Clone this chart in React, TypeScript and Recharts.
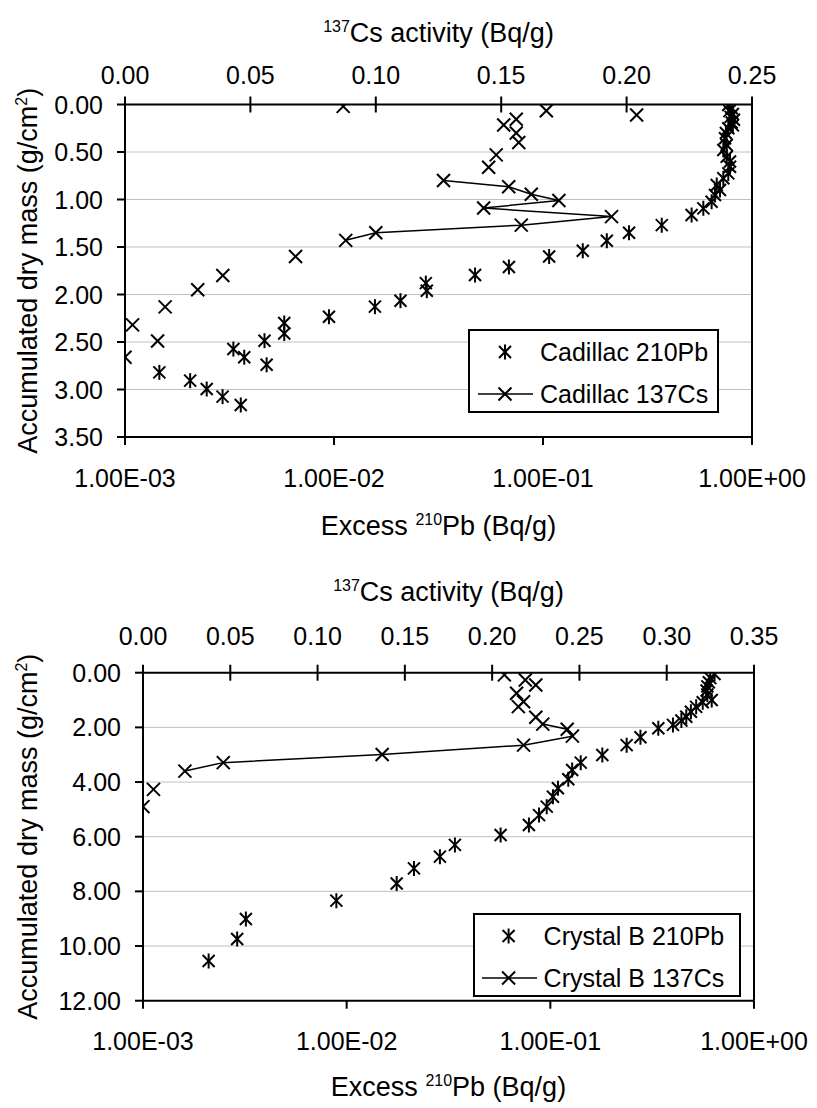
import React from 'react';
import { ScatterChart, Scatter, XAxis, YAxis, CartesianGrid, Legend, ReferenceLine } from 'recharts';

const FONT = '"Liberation Sans", Arial, Helvetica, sans-serif';
const TICK_FS = 25;
const TITLE_FS = 27;
const SUP_FS = 16;

// ---------- Cadillac ----------
const cadCsDepth = [0.02, 0.065, 0.11, 0.155, 0.215, 0.30, 0.40, 0.53, 0.66, 0.80, 0.865, 0.945, 1.01, 1.09, 1.18, 1.27, 1.35, 1.43, 1.60, 1.80, 1.95, 2.13, 2.32, 2.49, 2.66];
const cadCs = [0.087, 0.168, 0.204, 0.156, 0.151, 0.156, 0.157, 0.148, 0.145, 0.127, 0.153, 0.162, 0.173, 0.143, 0.194, 0.158, 0.100, 0.088, 0.068, 0.039, 0.029, 0.016, 0.003, 0.013, 0.000];
const cadCsLineRange = [9, 17];

const cadPbDepth = [0.005, 0.04, 0.07, 0.10, 0.13, 0.16, 0.19, 0.22, 0.25, 0.30, 0.356, 0.426, 0.479, 0.55, 0.60, 0.655, 0.725, 0.777, 0.847, 0.90, 0.953, 1.023, 1.093, 1.163, 1.27, 1.35, 1.434, 1.54, 1.60, 1.71, 1.795, 1.88, 1.96, 2.065, 2.128, 2.234, 2.30, 2.41, 2.486, 2.574, 2.66, 2.74, 2.82, 2.907, 2.995, 3.075, 3.163];
const cadPb = [0.77, 0.80, 0.78, 0.81, 0.79, 0.82, 0.80, 0.81, 0.77, 0.75, 0.743, 0.757, 0.729, 0.757, 0.785, 0.785, 0.77, 0.729, 0.678, 0.703, 0.665, 0.641, 0.585, 0.514, 0.370, 0.258, 0.202, 0.155, 0.107, 0.0687, 0.0473, 0.0275, 0.0278, 0.0208, 0.0157, 0.00946, 0.00578, 0.00578, 0.00465, 0.0033, 0.00372, 0.00476, 0.00146, 0.00205, 0.00246, 0.00293, 0.00358];

// ---------- Crystal B ----------
const crbCsDepth = [0.08, 0.27, 0.45, 0.75, 1.06, 1.24, 1.63, 1.88, 2.07, 2.32, 2.65, 2.99, 3.29, 3.60, 4.27, 4.90];
const crbCs = [0.207, 0.219, 0.225, 0.214, 0.218, 0.215, 0.225, 0.229, 0.243, 0.246, 0.218, 0.137, 0.046, 0.024, 0.006, 0.000];
const crbCsLineRange = [7, 13];

const crbPbDepth = [0.05, 0.20, 0.35, 0.50, 0.65, 0.80, 1.00, 1.08, 1.25, 1.43, 1.61, 1.75, 1.91, 2.03, 2.36, 2.65, 3.01, 3.29, 3.56, 3.90, 4.23, 4.54, 4.90, 5.21, 5.57, 5.94, 6.30, 6.73, 7.16, 7.71, 8.34, 9.01, 9.74, 10.55];
const crbPb = [0.64, 0.61, 0.60, 0.59, 0.585, 0.59, 0.62, 0.56, 0.52, 0.49, 0.465, 0.44, 0.40, 0.339, 0.277, 0.237, 0.180, 0.141, 0.128, 0.1225, 0.109, 0.103, 0.096, 0.088, 0.0785, 0.057, 0.034, 0.0287, 0.0214, 0.0176, 0.0089, 0.0032, 0.0029, 0.0021];

// ---------- ticks ----------
const logTicks = [0.001, 0.01, 0.1, 1];
const cadCsTicks = [0, 0.05, 0.1, 0.15, 0.2, 0.25];
const crbCsTicks = [0, 0.05, 0.1, 0.15, 0.2, 0.25, 0.3, 0.35];
const cadDepthTicks = [0, 0.5, 1, 1.5, 2, 2.5, 3, 3.5];
const crbDepthTicks = [0, 2, 4, 6, 8, 10, 12];

const toPoints = (depth: number[], vals: number[]) => depth.map((d, i) => ({ x: vals[i], y: d }));

const fmtExp = (v: number) => {
  const e = Math.round(Math.log10(v));
  const s = e < 0 ? '-' : '+';
  const a = Math.abs(e);
  return `1.00E${s}${a < 10 ? '0' : ''}${a}`;
};

const XMark = (props: any) => {
  const { cx, cy } = props;
  if (cx == null || cy == null) return <g />;
  const r = 6.5;
  return (
    <g stroke="#000" strokeWidth={2}>
      <line x1={cx - r} y1={cy - r} x2={cx + r} y2={cy + r} />
      <line x1={cx - r} y1={cy + r} x2={cx + r} y2={cy - r} />
    </g>
  );
};

const StarMark = (props: any) => {
  const { cx, cy } = props;
  if (cx == null || cy == null) return <g />;
  const r = 6;
  return (
    <g stroke="#000" strokeWidth={2}>
      <line x1={cx - r} y1={cy - r} x2={cx + r} y2={cy + r} />
      <line x1={cx - r} y1={cy + r} x2={cx + r} y2={cy - r} />
      <line x1={cx} y1={cy - 7.5} x2={cx} y2={cy + 7.5} />
    </g>
  );
};

const NoMark = () => <g />;

type PanelProps = {
  top: number;
  height: number;
  plotLeft: number;
  plotTop: number;
  plotRight: number;
  plotBottom: number;
  csTicks: number[];
  depthTicks: number[];
  csPts: { x: number; y: number }[];
  csLinePts: { x: number; y: number }[];
  pbPts: { x: number; y: number }[];
  pbName: string;
  csName: string;
  topTickGap: number;
  topTitleBase: number;
  bottomTickBase: number;
  bottomTitleBase: number;
  legend: { left: number; top: number; w: number; h: number; r1: number; r2: number; mx: number; l1: number; l2: number; tx: number };
};

const Panel = (p: PanelProps) => {
  const W = 817;
  const cx = (p.plotLeft + p.plotRight) / 2;
  const cy = (p.plotTop + p.plotBottom) / 2;
  const csMax = p.csTicks[p.csTicks.length - 1];
  const dMax = p.depthTicks[p.depthTicks.length - 1];

  const TopTick = (tp: any) => {
    const { x, y, payload } = tp;
    return (
      <g>
        <line x1={x} x2={x} y1={y - 8} y2={y + 8} stroke="#000" strokeWidth={2} />
        <text x={x} y={y - p.topTickGap} textAnchor="middle" fontSize={TICK_FS} fontFamily={FONT} fill="#000">
          {Number(payload.value).toFixed(2)}
        </text>
      </g>
    );
  };
  const BottomTick = (tp: any) => {
    const { x, y, payload } = tp;
    return (
      <g>
        <line x1={x} x2={x} y1={y} y2={y + 8} stroke="#000" strokeWidth={2} />
        <text x={x} y={y + p.bottomTickBase} textAnchor="middle" fontSize={TICK_FS} fontFamily={FONT} fill="#000">
          {fmtExp(Number(payload.value))}
        </text>
      </g>
    );
  };
  const LeftTick = (tp: any) => {
    const { x, y, payload } = tp;
    return (
      <g>
        <line x1={x - 8} x2={x} y1={y} y2={y} stroke="#000" strokeWidth={2} />
        <text x={x - 22} y={y + 9} textAnchor="end" fontSize={TICK_FS} fontFamily={FONT} fill="#000">
          {Number(payload.value).toFixed(2)}
        </text>
      </g>
    );
  };

  const topTitle = () => (
    <text x={cx} y={p.topTitleBase} textAnchor="middle" fontFamily={FONT} fontSize={TITLE_FS} fill="#000">
      <tspan fontSize={SUP_FS} dy={-10}>137</tspan>
      <tspan dy={10}>Cs activity (Bq/g)</tspan>
    </text>
  );
  const bottomTitle = () => (
    <text x={cx} y={p.bottomTitleBase} textAnchor="middle" fontFamily={FONT} fontSize={TITLE_FS} fill="#000">
      <tspan>Excess </tspan>
      <tspan fontSize={SUP_FS} dy={-10}>210</tspan>
      <tspan dy={10}>Pb (Bq/g)</tspan>
    </text>
  );
  const yTitle = () => (
    <text transform={`translate(37, ${cy}) rotate(-90)`} x={0} y={0} textAnchor="middle" fontFamily={FONT} fontSize={TITLE_FS} fill="#000">
      <tspan>Accumulated dry mass (g/cm</tspan>
      <tspan fontSize={SUP_FS} dy={-10}>2</tspan>
      <tspan dy={10}>)</tspan>
    </text>
  );

  const L = p.legend;
  const legendContent = () => (
    <div
      style={{
        position: 'relative',
        width: L.w,
        height: L.h,
        border: '2px solid #000',
        boxSizing: 'border-box',
        background: '#fff',
        fontFamily: FONT,
        fontSize: 25,
        color: '#000',
      }}
    >
      <svg style={{ position: 'absolute', left: -2, top: L.r1 - 22, overflow: 'visible' }} width={80} height={40}>
        <StarMark cx={L.mx} cy={20} />
      </svg>
      <div style={{ position: 'absolute', left: L.tx - 2, top: L.r1 - 17, height: 30, lineHeight: '30px', whiteSpace: 'nowrap' }}>{p.pbName}</div>
      <svg style={{ position: 'absolute', left: -2, top: L.r2 - 22, overflow: 'visible' }} width={80} height={40}>
        <line x1={L.l1} x2={L.l2} y1={20} y2={20} stroke="#000" strokeWidth={1.5} />
        <XMark cx={L.mx} cy={20} />
      </svg>
      <div style={{ position: 'absolute', left: L.tx - 2, top: L.r2 - 17, height: 30, lineHeight: '30px', whiteSpace: 'nowrap' }}>{p.csName}</div>
    </div>
  );

  return (
    <div style={{ position: 'absolute', left: 0, top: p.top, width: W, height: p.height }}>
      <ScatterChart width={W} height={p.height} margin={{ top: 0, left: 0, right: W - p.plotRight, bottom: 0 }}>
        <CartesianGrid xAxisId="pb" horizontal vertical={false} stroke="#c0c0c0" strokeWidth={1} />
        <XAxis
          xAxisId="cs"
          orientation="top"
          type="number"
          dataKey="x"
          domain={[0, csMax]}
          ticks={p.csTicks}
          interval={0}
          height={p.plotTop}
          tickSize={0}
          tickMargin={0}
          tickLine={false}
          tick={TopTick}
          axisLine={{ stroke: '#000', strokeWidth: 2 }}
          allowDataOverflow
          label={topTitle}
        />
        <XAxis
          xAxisId="pb"
          orientation="bottom"
          type="number"
          scale="log"
          dataKey="x"
          domain={[0.001, 1]}
          ticks={logTicks}
          interval={0}
          height={p.height - p.plotBottom}
          tickSize={0}
          tickMargin={0}
          tickLine={false}
          tick={BottomTick}
          axisLine={{ stroke: '#000', strokeWidth: 2 }}
          allowDataOverflow
          label={bottomTitle}
        />
        <YAxis
          type="number"
          dataKey="y"
          reversed
          domain={[0, dMax]}
          ticks={p.depthTicks}
          interval={0}
          width={p.plotLeft}
          tickSize={0}
          tickMargin={0}
          tickLine={false}
          tick={LeftTick}
          axisLine={{ stroke: '#000', strokeWidth: 2 }}
          allowDataOverflow
          label={yTitle}
        />
        <ReferenceLine xAxisId="pb" x={1} stroke="#000" strokeWidth={2} />
        <Scatter name={p.pbName} xAxisId="pb" data={p.pbPts} shape={StarMark} isAnimationActive={false} />
        <Scatter name={p.csName} xAxisId="cs" data={p.csPts} shape={XMark} isAnimationActive={false} />
        <Scatter
          name={p.csName + ' line'}
          xAxisId="cs"
          data={p.csLinePts}
          shape={NoMark}
          line={{ stroke: '#000', strokeWidth: 1.5 }}
          lineType="joint"
          legendType="none"
          isAnimationActive={false}
        />
        <Legend
          layout="vertical"
          align="center"
          verticalAlign="middle"
          wrapperStyle={{ left: L.left, top: L.top, width: L.w, height: L.h }}
          content={legendContent}
        />
      </ScatterChart>
    </div>
  );
};

const cadCsPts = toPoints(cadCsDepth, cadCs);
const crbCsPts = toPoints(crbCsDepth, crbCs);

export default function App() {
  return (
    <div style={{ position: 'absolute', left: 0, top: 0, width: 817, height: 1108, background: '#fff' }}>
      <Panel
        top={0}
        height={560}
        plotLeft={125}
        plotTop={104.5}
        plotRight={752}
        plotBottom={437}
        csTicks={cadCsTicks}
        depthTicks={cadDepthTicks}
        csPts={cadCsPts}
        csLinePts={cadCsPts.slice(cadCsLineRange[0], cadCsLineRange[1] + 1)}
        pbPts={toPoints(cadPbDepth, cadPb)}
        pbName="Cadillac 210Pb"
        csName="Cadillac 137Cs"
        topTickGap={21}
        topTitleBase={41.5}
        bottomTickBase={49.5}
        bottomTitleBase={535}
        legend={{ left: 468, top: 329, w: 251, h: 84, r1: 22.7, r2: 65, mx: 37, l1: 10, l2: 65, tx: 72 }}
      />
      <Panel
        top={560}
        height={548}
        plotLeft={143}
        plotTop={112.7}
        plotRight={754}
        plotBottom={440.7}
        csTicks={crbCsTicks}
        depthTicks={crbDepthTicks}
        csPts={crbCsPts}
        csLinePts={crbCsPts.slice(crbCsLineRange[0], crbCsLineRange[1] + 1)}
        pbPts={toPoints(crbPbDepth, crbPb)}
        pbName="Crystal B 210Pb"
        csName="Crystal B 137Cs"
        topTickGap={28}
        topTitleBase={40.5}
        bottomTickBase={49}
        bottomTitleBase={536}
        legend={{ left: 473, top: 352.7, w: 268, h: 84, r1: 23.3, r2: 65.6, mx: 35.6, l1: 9, l2: 64, tx: 70.6 }}
      />
    </div>
  );
}
